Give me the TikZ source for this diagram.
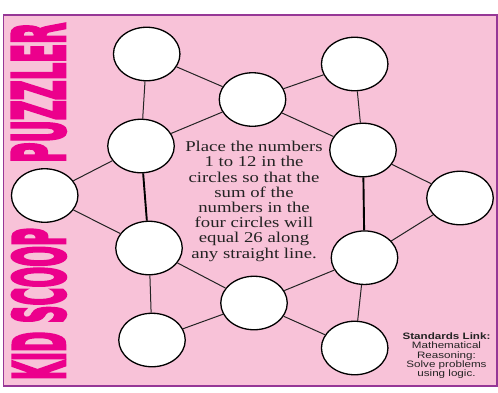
\documentclass[tikz,border=0pt]{standalone}
\usepackage{fontspec}
\usepackage{graphicx}
\setmainfont{Liberation Serif}[FakeStretch=1.25]
\newfontfamily\standardsfont{Liberation Sans}[FakeStretch=1.25]
\newfontfamily\logofont{DejaVu Sans Bold}[FakeBold=5]
\usetikzlibrary{shapes.geometric}
\definecolor{puzzlepink}{RGB}{248,194,216}
\definecolor{framepurple}{RGB}{150,55,150}
\definecolor{logomagenta}{RGB}{236,0,140}
\definecolor{inkgray}{RGB}{35,35,35}
\tikzset{
    spot/.style={ellipse, draw=black, line width=1.3pt, fill=white, minimum width=66.5pt, minimum height=53.5pt, inner sep=0pt},
    link/.style={draw=inkgray, line width=1pt},
    spine/.style={draw=black, line width=1.9pt},
    logo/.style={rotate=90, inner sep=0pt, text=logomagenta},
}

\begin{document}
\begin{tikzpicture}[x=1pt, y=-1pt]
        \useasboundingbox (0,0) rectangle (498,392);
        \draw[framepurple, line width=1.5pt, fill=puzzlepink] (3.3,15) rectangle (497.2,385.8);

        % the twelve circles of the star
        \foreach \name/\x/\y in {A/146.7/54, B/252.5/99.5, C/354.7/64, D/363/150, E/460/198, F/364.5/257.7,
                                 G/354.7/348, H/254/303, I/152/340, J/149/248, K/44.7/195.5, L/141/146}
            \node[spot] (\name) at (\x,\y) {};

        \foreach \from/\to in {A/L, J/I, C/D, F/G, A/B, B/D, D/E, C/B, B/L, L/K, K/J, J/H, H/G, I/H, H/F, F/E}
            \draw[link] (\from) -- (\to);
        \draw[spine] (L) -- (J);
        \draw[spine] (D) -- (F);

        \node[logo] (puzzler) at (38.9,92.7) {\resizebox{140pt}{52.3pt}{\logofont PUZZLER}};
        \node[logo] (kidscoop) at (38.9,304) {\resizebox{152pt}{52.3pt}{\logofont KID SCOOP}};

        \node[text=inkgray, align=center, font=\fontsize{15}{15.2}\selectfont] (rules) at (254,201.4)
            {Place the numbers\\ 1 to 12 in the\\ circles so that the\\ sum of the\\ numbers in the\\ four circles will\\ equal 26 along\\ any straight line.};
        \node[text=inkgray, align=center, font=\standardsfont\fontsize{9.3}{9.1}\selectfont] (standards) at (446.5,355.6)
            {\textbf{Standards Link:}\\ Mathematical\\ Reasoning:\\ Solve problems\\ using logic.};
    \end{tikzpicture}
\end{document}
